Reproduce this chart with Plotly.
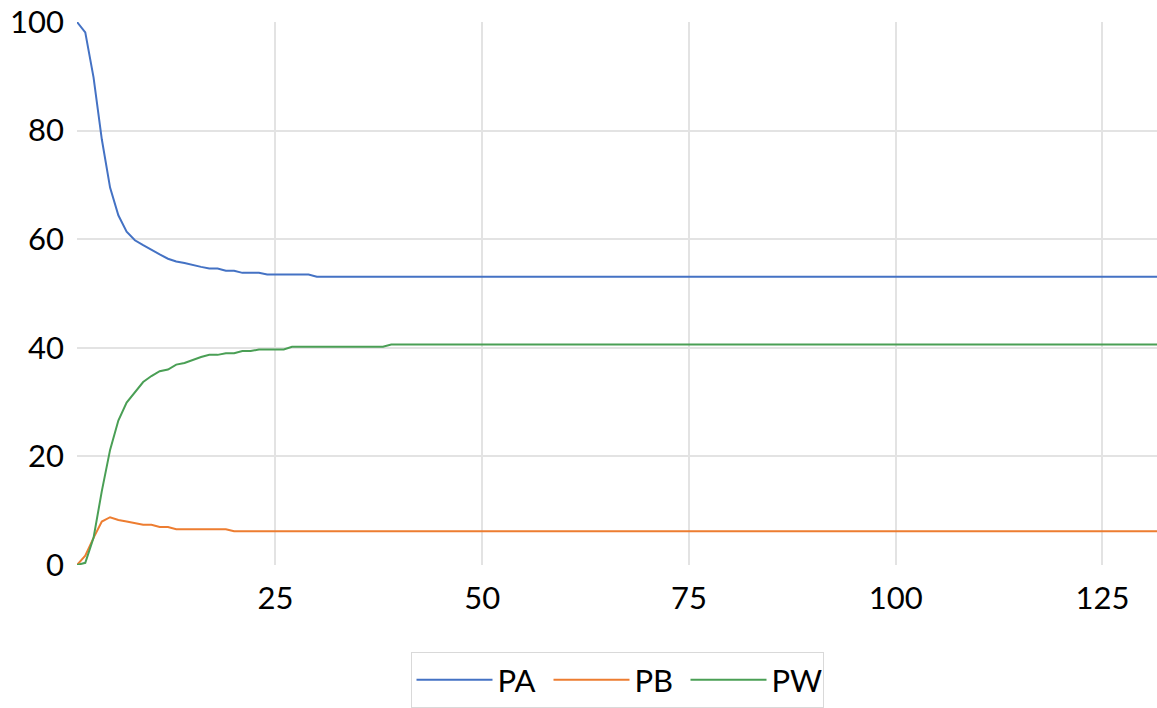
import plotly.graph_objects as go

# Iteration index and the three probability series (percent)
steps = list(range(1, 133))

pa_head = [100.0, 98.1, 89.8, 78.4, 69.5, 64.4, 61.4, 59.8, 58.9, 58.0,
           57.2, 56.4, 55.9, 55.6, 55.2, 54.9, 54.6, 54.6, 54.2, 54.2,
           53.8, 53.8, 53.8, 53.5, 53.5, 53.5, 53.5, 53.5, 53.5]
pb_head = [0.0, 1.7, 5.0, 8.0, 8.8, 8.3, 8.0, 7.7, 7.4, 7.4,
           7.0, 7.0, 6.6, 6.6, 6.6, 6.6, 6.6, 6.6, 6.6]
pw_head = [0.0, 0.4, 5.0, 13.6, 21.2, 26.6, 29.9, 31.7, 33.7, 34.8,
           35.7, 36.0, 36.9, 37.2, 37.8, 38.3, 38.7, 38.7, 39.0, 39.0,
           39.4, 39.4, 39.7, 39.7, 39.7, 39.7, 40.2, 40.2, 40.2, 40.2,
           40.2, 40.2, 40.2, 40.2, 40.2, 40.2, 40.2, 40.2]

pa_final = 53.1
pb_final = 6.2
pw_final = 40.6

PA = pa_head + [pa_final] * (len(steps) - len(pa_head))
PB = pb_head + [pb_final] * (len(steps) - len(pb_head))
PW = pw_head + [pw_final] * (len(steps) - len(pw_head))

x_ticks = [25, 50, 75, 100, 125]
y_ticks = [0, 20, 40, 60, 80, 100]

FONT = "Lato"
GRID = "#e3e3e3"

fig = go.Figure()
for name, values, color in [("PA", PA, "#4472C4"),
                            ("PB", PB, "#ED7D31"),
                            ("PW", PW, "#4A9F55")]:
    fig.add_trace(go.Scatter(x=steps, y=values, mode="lines", name=name,
                             line=dict(color=color, width=2)))

fig.update_layout(
    width=1157, height=708,
    margin=dict(l=77, r=0, t=22, b=142),
    paper_bgcolor="white", plot_bgcolor="white",
    font=dict(family=FONT, size=31, color="black"),
    showlegend=True,
    legend=dict(
        orientation="h", xanchor="center", x=0.5,
        yanchor="top", y=-0.161,
        bordercolor="#d9d9d9", borderwidth=1,
        font=dict(family=FONT, size=31, color="black"),
        itemwidth=76, entrywidth=46,
    ),
)
fig.update_xaxes(range=[1, 131.6], tickvals=x_ticks, showgrid=True,
                 gridcolor=GRID, gridwidth=1.5, zeroline=False,
                 showline=False, ticks="", ticklabelstandoff=12)
fig.update_yaxes(range=[0, 100], tickvals=y_ticks, showgrid=True,
                 gridcolor=GRID, gridwidth=1.5, zeroline=False,
                 showline=False, ticks="", ticklabelstandoff=12)

fig.write_html("out.html")
